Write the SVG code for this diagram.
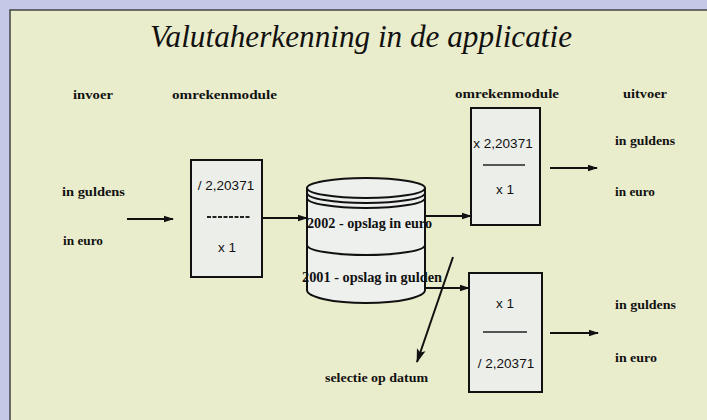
<svg xmlns="http://www.w3.org/2000/svg" width="707" height="420" viewBox="0 0 707 420">
<defs>
<marker id="ah" markerWidth="10" markerHeight="8" refX="9" refY="4" orient="auto" markerUnits="userSpaceOnUse">
<path d="M0,0.8 L10,4 L0,7.2 Z" fill="#111"/>
</marker>
<marker id="ahBig" markerWidth="14" markerHeight="10" refX="13" refY="5" orient="auto" markerUnits="userSpaceOnUse">
<path d="M0,0.5 L14,5 L0,9.5 L3,5 Z" fill="#111"/>
</marker>
<style>
.lbl{font-family:"Liberation Serif","Times New Roman",serif;font-weight:bold;font-size:13px;fill:#111}
.num{font-family:"Liberation Sans",Arial,sans-serif;font-size:13.5px;fill:#111;text-anchor:middle}
.db{font-family:"Liberation Serif","Times New Roman",serif;font-weight:bold;font-size:14px;fill:#111}
.box{fill:#eceeea;stroke:#111;stroke-width:2}
.cyl{fill:#eef0ee;stroke:#111;stroke-width:2}
.arc{fill:none;stroke:#111;stroke-width:2}
.conn{stroke:#111;stroke-width:1.8;fill:none;marker-end:url(#ah)}
</style>
</defs>
<rect x="0" y="0" width="707" height="420" fill="#c5c8e6"/>
<rect x="10" y="10" width="705" height="420" fill="#eaedcb" stroke="#444" stroke-width="1.5"/>
<text x="150" y="47" textLength="422" lengthAdjust="spacingAndGlyphs" style="font-family:'Liberation Serif','Times New Roman',serif;font-style:italic;font-size:31px;fill:#111">Valutaherkenning in de applicatie</text>

<g id="headers">
<text class="lbl" x="73" y="99" textLength="40" lengthAdjust="spacingAndGlyphs">invoer</text>
<text class="lbl" x="172" y="99" textLength="105" lengthAdjust="spacingAndGlyphs">omrekenmodule</text>
<text class="lbl" x="455" y="98" textLength="104" lengthAdjust="spacingAndGlyphs">omrekenmodule</text>
<text class="lbl" x="623" y="98" textLength="44" lengthAdjust="spacingAndGlyphs">uitvoer</text>
</g>

<g id="input">
<text class="lbl" x="62" y="196" textLength="63" lengthAdjust="spacingAndGlyphs">in guldens</text>
<text class="lbl" x="63" y="245" textLength="40" lengthAdjust="spacingAndGlyphs">in euro</text>
</g>

<g id="module-left">
<rect class="box" x="191" y="160" width="71" height="117"/>
<text class="num" x="226" y="190">/ 2,20371</text>
<line x1="207" y1="217" x2="250" y2="217" stroke="#222" stroke-width="1.8" stroke-dasharray="4 1.5"/>
<text class="num" x="227" y="252">x 1</text>
</g>

<g id="database">
<path class="cyl" d="M307,188 L307,290 A59,13 0 0 0 425,290 L425,188"/>
<ellipse class="cyl" cx="366" cy="188" rx="59" ry="10"/>
<path class="arc" d="M307,193 A59,10 0 0 0 425,193"/>
<path class="arc" d="M307,198 A59,10 0 0 0 425,198"/>
<path class="arc" d="M307,245 A59,10 0 0 0 425,245"/>
<text class="db" x="307" y="228" textLength="125" lengthAdjust="spacingAndGlyphs">2002 - opslag in euro</text>
<text class="db" x="302" y="282" textLength="140" lengthAdjust="spacingAndGlyphs">2001 - opslag in gulden</text>
</g>

<g id="module-upper">
<rect class="box" x="471" y="108" width="69" height="117"/>
<text class="num" x="503" y="148">x 2,20371</text>
<line x1="483" y1="165" x2="525" y2="165" stroke="#222" stroke-width="1.4"/>
<text class="num" x="505" y="194">x 1</text>
</g>

<g id="module-lower">
<rect class="box" x="469" y="273" width="73" height="119"/>
<text class="num" x="505" y="308">x 1</text>
<line x1="483" y1="332" x2="527" y2="332" stroke="#222" stroke-width="1.4"/>
<text class="num" x="506" y="368">/ 2,20371</text>
</g>

<g id="output-upper">
<text class="lbl" x="615" y="145" textLength="60" lengthAdjust="spacingAndGlyphs">in guldens</text>
<text class="lbl" x="615" y="196" textLength="40" lengthAdjust="spacingAndGlyphs">in euro</text>
</g>

<g id="output-lower">
<text class="lbl" x="615" y="309" textLength="61" lengthAdjust="spacingAndGlyphs">in guldens</text>
<text class="lbl" x="615" y="362" textLength="42" lengthAdjust="spacingAndGlyphs">in euro</text>
</g>

<g id="selectie">
<text class="lbl" x="325" y="382" textLength="103" lengthAdjust="spacingAndGlyphs">selectie op datum</text>
</g>

<g id="connectors">
<line class="conn" x1="127" y1="219" x2="173" y2="219"/>
<line class="conn" x1="262" y1="218" x2="307" y2="218"/>
<line class="conn" x1="425" y1="216" x2="471" y2="216"/>
<line class="conn" x1="550" y1="168" x2="597" y2="168"/>
<line class="conn" x1="425" y1="288" x2="469" y2="288"/>
<line class="conn" x1="550" y1="333" x2="598" y2="333"/>
<line x1="453" y1="257" x2="417" y2="362" stroke="#111" stroke-width="2" marker-end="url(#ahBig)"/>
</g>
</svg>
